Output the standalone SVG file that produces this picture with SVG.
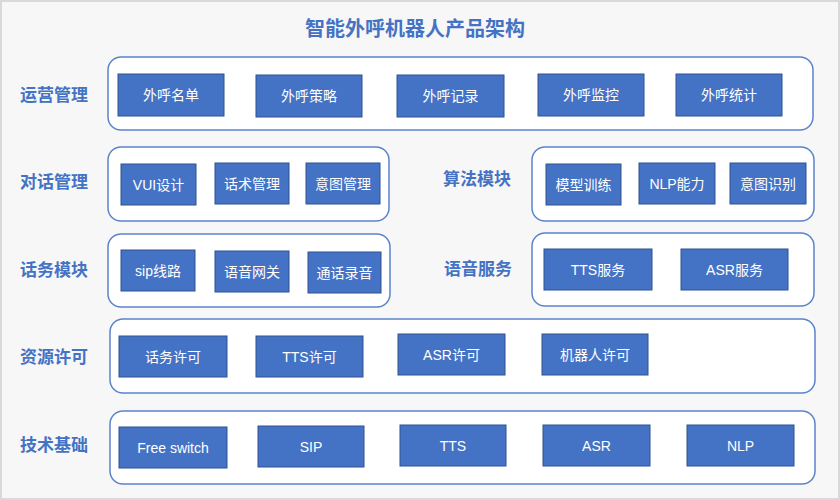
<svg xmlns="http://www.w3.org/2000/svg" width="840" height="500" viewBox="0 0 840 500">
<style>
.bg{fill:#f7f7f7;stroke:#d9d9d9;stroke-width:2}
.panel{fill:#ffffff;stroke:#5b84cc;stroke-width:1.5}
.box{fill:#4472c4;stroke:#2f528f;stroke-width:1}
.bt{fill:#ffffff;font-family:"Liberation Sans","Noto Sans CJK SC",sans-serif;font-size:14px;text-anchor:middle;dominant-baseline:central}
.lbl{fill:#4472c4;font-family:"Noto Sans CJK SC",sans-serif;font-size:17px;font-weight:bold;text-anchor:middle;dominant-baseline:central}
.title{fill:#4472c4;font-family:"Noto Sans CJK SC",sans-serif;font-size:20px;font-weight:bold;text-anchor:middle;dominant-baseline:central}
</style>
<rect class="bg" x="1" y="1" width="838" height="498"/>
<text class="title" x="415" y="27">智能外呼机器人产品架构</text>
<g id="connectors"/>

<g id="row-yunying">
<text class="lbl" x="54" y="93">运营管理</text>
<rect class="panel" x="108" y="57" width="705" height="73" rx="13"/>
<g id="n-waihumingdan"><rect class="box" x="118" y="74" width="106" height="42"/><text class="bt" x="171" y="95">外呼名单</text></g>
<g id="n-waihucelve"><rect class="box" x="256" y="75" width="106" height="42"/><text class="bt" x="309" y="96">外呼策略</text></g>
<g id="n-waihujilu"><rect class="box" x="397" y="75" width="107" height="42"/><text class="bt" x="450.5" y="96">外呼记录</text></g>
<g id="n-waihujiankong"><rect class="box" x="538" y="74" width="106" height="42"/><text class="bt" x="591" y="95">外呼监控</text></g>
<g id="n-waihutongji"><rect class="box" x="676" y="74" width="106" height="42"/><text class="bt" x="729" y="95">外呼统计</text></g>
</g>

<g id="row-duihua">
<text class="lbl" x="54" y="180">对话管理</text>
<rect class="panel" x="108" y="147" width="281" height="74" rx="13"/>
<g id="n-vui"><rect class="box" x="121" y="164" width="75" height="41"/><text class="bt" x="158.5" y="184.5">VUI设计</text></g>
<g id="n-huashu"><rect class="box" x="215" y="163" width="74" height="41"/><text class="bt" x="252" y="183.5">话术管理</text></g>
<g id="n-yitu"><rect class="box" x="306" y="163" width="74" height="41"/><text class="bt" x="343" y="183.5">意图管理</text></g>
</g>

<g id="row-suanfa">
<text class="lbl" x="477" y="177">算法模块</text>
<rect class="panel" x="532" y="147" width="282" height="74" rx="13"/>
<g id="n-moxing"><rect class="box" x="546" y="164" width="75" height="41"/><text class="bt" x="583.5" y="184.5">模型训练</text></g>
<g id="n-nlpnengli"><rect class="box" x="639" y="163" width="76" height="41"/><text class="bt" x="677" y="183.5">NLP能力</text></g>
<g id="n-yitushibie"><rect class="box" x="730" y="163" width="76" height="41"/><text class="bt" x="768" y="183.5">意图识别</text></g>
</g>

<g id="row-huawu">
<text class="lbl" x="54" y="268">话务模块</text>
<rect class="panel" x="108" y="234" width="282" height="73" rx="13"/>
<g id="n-sip"><rect class="box" x="121" y="250" width="74" height="41"/><text class="bt" x="158" y="270.5">sip线路</text></g>
<g id="n-wangguan"><rect class="box" x="215" y="251" width="74" height="41"/><text class="bt" x="252" y="271.5">语音网关</text></g>
<g id="n-luyin"><rect class="box" x="308" y="252" width="73" height="41"/><text class="bt" x="344.5" y="272.5">通话录音</text></g>
</g>

<g id="row-yuyin">
<text class="lbl" x="478" y="267">语音服务</text>
<rect class="panel" x="532" y="233" width="282" height="73" rx="13"/>
<g id="n-ttsfuwu"><rect class="box" x="544" y="249" width="108" height="41"/><text class="bt" x="598" y="269.5">TTS服务</text></g>
<g id="n-asrfuwu"><rect class="box" x="681" y="249" width="107" height="41"/><text class="bt" x="734.5" y="269.5">ASR服务</text></g>
</g>

<g id="row-ziyuan">
<text class="lbl" x="54" y="355">资源许可</text>
<rect class="panel" x="110" y="319" width="705" height="74" rx="13"/>
<g id="n-huawuxuke"><rect class="box" x="119" y="336" width="108" height="41"/><text class="bt" x="173" y="356.5">话务许可</text></g>
<g id="n-ttsxuke"><rect class="box" x="256" y="336" width="107" height="41"/><text class="bt" x="309.5" y="356.5">TTS许可</text></g>
<g id="n-asrxuke"><rect class="box" x="398" y="334" width="107" height="41"/><text class="bt" x="451.5" y="354.5">ASR许可</text></g>
<g id="n-jiqirenxuke"><rect class="box" x="542" y="334" width="106" height="41"/><text class="bt" x="595" y="354.5">机器人许可</text></g>
</g>

<g id="row-jishu">
<text class="lbl" x="54" y="443">技术基础</text>
<rect class="panel" x="110" y="411" width="705" height="73" rx="13"/>
<g id="n-freeswitch"><rect class="box" x="119" y="427" width="108" height="41"/><text class="bt" x="173" y="447.5">Free switch</text></g>
<g id="n-sipbase"><rect class="box" x="258" y="426" width="106" height="41"/><text class="bt" x="311" y="446.5">SIP</text></g>
<g id="n-tts"><rect class="box" x="400" y="425" width="106" height="41"/><text class="bt" x="453" y="445.5">TTS</text></g>
<g id="n-asr"><rect class="box" x="543" y="425" width="107" height="41"/><text class="bt" x="596.5" y="445.5">ASR</text></g>
<g id="n-nlp"><rect class="box" x="687" y="425" width="107" height="41"/><text class="bt" x="740.5" y="445.5">NLP</text></g>
</g>
</svg>
